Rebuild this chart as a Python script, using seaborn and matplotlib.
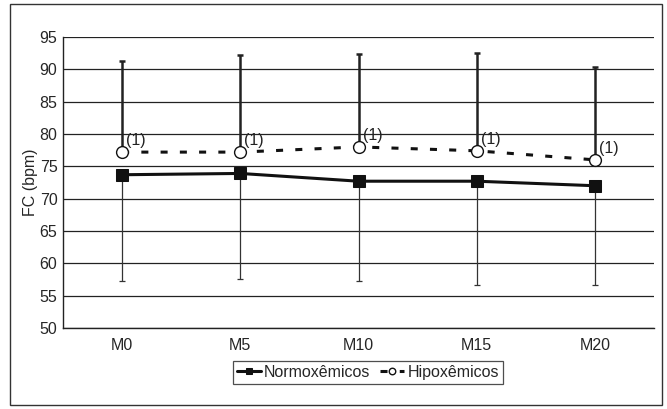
import numpy as np
import pandas as pd
import seaborn as sns
import matplotlib.pyplot as plt
from matplotlib.patches import Rectangle

# dados
momentos = ['M0', 'M5', 'M10', 'M15', 'M20']
normo = [73.7, 73.9, 72.7, 72.7, 72.0]
normo_dp = [16.4, 16.25, 15.4, 16.0, 15.3]   # barra só para baixo
hipo = [77.2, 77.2, 78.0, 77.4, 76.0]
hipo_dp = [14.1, 15.0, 14.3, 15.2, 14.3]      # barra só para cima

sns.set_style('white')
plt.rcParams['font.family'] = ['Liberation Sans', 'DejaVu Sans']
fs = 11.5

df = pd.DataFrame({'Momento': momentos * 2,
                   'FC': normo + hipo,
                   'Grupo': ['Normoxêmicos'] * 5 + ['Hipoxêmicos'] * 5})
df['x'] = list(range(5)) * 2

fig = plt.figure(figsize=(6.67, 4.09), dpi=100)
ax = fig.add_axes([63 / 667, 1 - 328 / 409, (654 - 63) / 667, (328 - 37) / 409])

x = np.arange(len(momentos))

# barras de erro (unilaterais)
ax.errorbar(x, normo, yerr=[normo_dp, [0] * 5], fmt='none', ecolor='#333333',
            elinewidth=0.9, capsize=2.5, capthick=0.9, zorder=2)
ax.errorbar(x, hipo, yerr=[[0] * 5, hipo_dp], fmt='none', ecolor='#222222',
            elinewidth=1.8, capsize=2.5, capthick=1.8, zorder=2)

sns.lineplot(data=df[df['Grupo'] == 'Normoxêmicos'], x='x', y='FC', ax=ax,
             color='#111111', linewidth=2.2, marker='s', markersize=8.5,
             markeredgecolor='#111111', label='Normoxêmicos', zorder=4)
sns.lineplot(data=df[df['Grupo'] == 'Hipoxêmicos'], x='x', y='FC', ax=ax,
             color='#111111', linewidth=2.2, marker='o', markersize=8.5,
             markerfacecolor='white', markeredgecolor='#111111', markeredgewidth=1,
             label='Hipoxêmicos', zorder=4)
ax.lines[-1].set_dashes([2.3, 4])

for xi, yi in zip(x, hipo):
    ax.annotate('(1)', (xi, yi), xytext=(3, 5), textcoords='offset points',
                fontsize=fs, color='#222222')

ax.set_xlim(-0.5, 4.5)
ax.set_ylim(50, 95)
ax.set_yticks(range(50, 96, 5))
ax.set_xticks(x)
ax.set_xticklabels(momentos)
ax.set_xticks(np.arange(-0.5, 5, 1), minor=True)
ax.tick_params(axis='x', which='major', length=0, labelsize=fs, pad=7)
ax.tick_params(axis='x', which='minor', length=3, direction='out', color='#333333')
ax.tick_params(axis='y', length=3, direction='out', labelsize=fs, pad=1, color='#333333')
ax.yaxis.grid(True, color='#222222', linewidth=0.9)
ax.set_axisbelow(True)
ax.set_xlabel('')
ax.set_ylabel('FC (bpm)', fontsize=fs, labelpad=1)
for s in ['top', 'right']:
    ax.spines[s].set_visible(False)
for s in ['left', 'bottom']:
    ax.spines[s].set_color('#222222')
    ax.spines[s].set_linewidth(1)

leg = ax.legend(loc='upper center', bbox_to_anchor=(0.516, -0.085), ncol=2,
                frameon=True, fancybox=False, fontsize=fs, handlelength=1.5,
                handletextpad=0.2, columnspacing=0.6, borderpad=0.25, markerscale=0.55)
leg.get_frame().set_edgecolor('#222222')
leg.get_frame().set_linewidth(0.9)

fig.patches.append(Rectangle((10 / 667, 4 / 409), 652 / 667, 401 / 409, transform=fig.transFigure,
                             fill=False, edgecolor='#333333', linewidth=1))

fig.savefig('out.png', dpi=100)
